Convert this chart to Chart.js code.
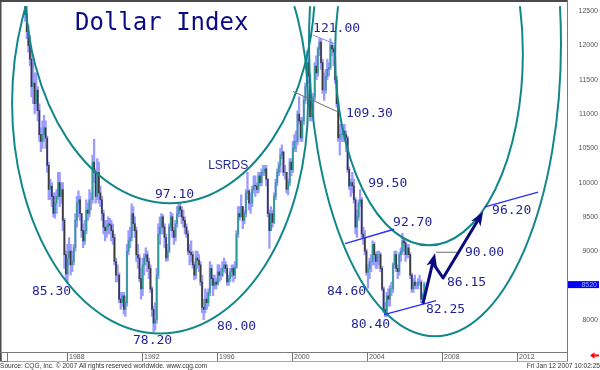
<!DOCTYPE html>
<html>
<head>
<meta charset="utf-8">
<title>Dollar Index</title>
<script src="https://cdn.jsdelivr.net/npm/chart.js@4.4.1/dist/chart.umd.min.js"></script>
<style>
  html, body { margin: 0; padding: 0; background: #fff; }
  #wrap { width: 600px; height: 370px; }
</style>
</head>
<body>
<div id="wrap"><canvas id="chart" width="600" height="370"></canvas></div>
<script>
// ==================== DATA ====================

// monthly bars, first bar = Oct 1985
const startYear = 1985;
const startMonth = 9; // 0 = Jan
const firstOpen = 128.5;

const closes = [
  124.5, 122.0, 120.0,
  118.0, 114.0, 114.5, 111.5, 113.5, 110.5, 107.0, 106.0, 107.0, 108.0, 106.5, 102.5,
  99.0, 99.5, 98.0, 95.5, 97.0, 98.0, 100.0, 98.0, 99.0, 94.5, 89.5, 86.7,
  89.0, 90.0, 88.0, 88.5, 90.5, 94.5, 97.0, 97.5, 95.5, 93.0, 91.5, 93.0,
  96.0, 95.5, 97.5, 97.5, 103.0, 101.5, 98.0, 101.5, 98.5, 97.5, 95.5, 93.5,
  93.0, 93.5, 94.0, 93.8, 93.0, 92.0, 88.5, 86.5, 86.5, 83.0, 82.5, 83.5,
  81.5, 82.5, 90.0, 91.5, 92.0, 95.5, 94.0, 93.0, 89.5, 89.0, 86.0, 84.5,
  88.0, 89.0, 89.5, 88.5, 87.5, 84.5, 81.5, 79.5, 80.0, 86.5, 92.5, 93.5,
  95.0, 93.5, 92.0, 89.0, 90.0, 93.5, 95.0, 93.0, 92.0, 94.0, 95.5, 96.5,
  96.0, 95.0, 94.5, 93.5, 92.5, 90.0, 89.8, 89.5, 88.0, 86.5, 89.0, 88.7,
  88.0, 85.5, 81.8, 81.5, 83.0, 82.5, 84.0, 87.5, 86.0, 85.0, 85.5, 85.2,
  87.0, 86.5, 86.5, 87.5, 88.0, 87.5, 85.5, 86.0, 87.0, 87.5, 86.5, 87.7,
  92.5, 95.5, 95.0, 96.5, 94.5, 95.5, 98.5, 98.8, 97.0, 97.0, 99.0, 99.6,
  99.5, 99.0, 101.0, 100.0, 101.5, 101.5, 102.0, 100.5, 95.5, 93.0, 95.5, 94.2,
  98.0, 100.0, 101.5, 102.5, 104.0, 104.5, 101.5, 101.5, 99.0, 100.0, 103.0, 101.9,
  105.0, 106.0, 106.0, 110.0, 109.0, 106.5, 109.0, 112.0, 114.0, 117.5, 115.5, 109.6,
  110.5, 112.5, 117.0, 116.0, 119.5, 120.5, 117.5, 113.5, 113.5, 115.5, 116.5, 116.8,
  120.0, 119.5, 119.0, 115.0, 111.5, 106.5, 107.0, 107.0, 107.5, 107.0, 106.5, 101.9,
  99.5, 100.0, 99.5, 97.5, 93.5, 95.0, 97.0, 97.5, 92.5, 92.0, 90.0, 86.9,
  87.5, 88.5, 88.5, 91.0, 89.5, 88.5, 89.5, 89.5, 87.5, 84.5, 81.5, 80.9,
  83.5, 83.0, 84.5, 84.5, 88.0, 89.5, 87.5, 87.0, 89.5, 90.0, 91.5, 91.2,
  89.5, 90.5, 89.5, 86.5, 84.5, 85.5, 85.0, 85.0, 85.5, 85.5, 83.0, 83.7,
  85.2
];

const highs = [
  130.0, 126.0, 123.0,
  121.5, 119.0, 117.5, 116.0, 116.0, 114.0, 111.5, 108.0, 109.0, 109.8, 109.0, 106.8,
  103.0, 100.5, 100.0, 98.5, 98.5, 99.0, 101.5, 101.5, 100.0, 100.0, 94.8, 90.0,
  91.0, 92.0, 91.0, 90.0, 91.0, 95.5, 98.0, 98.8, 98.0, 95.5, 94.0, 94.5,
  97.5, 97.0, 99.0, 98.5, 104.0, 106.3, 102.0, 103.5, 103.0, 99.5, 98.0, 96.0,
  94.5, 94.5, 95.0, 94.8, 94.5, 94.0, 92.5, 89.0, 88.0, 86.8, 84.0, 84.0,
  84.0, 83.5, 91.0, 93.0, 93.5, 96.9, 96.5, 95.0, 93.5, 91.0, 89.5, 87.5,
  89.0, 89.6, 90.5, 90.0, 89.0, 88.0, 84.8, 82.0, 82.5, 87.5, 94.0, 95.0,
  95.5, 95.3, 94.0, 92.5, 91.0, 94.0, 95.7, 95.5, 93.5, 94.5, 96.5, 97.1,
  97.0, 96.5, 96.0, 95.0, 94.0, 93.0, 91.0, 91.5, 90.0, 88.5, 90.0, 90.0,
  89.5, 88.5, 86.5, 83.0, 84.5, 84.0, 84.5, 88.5, 88.0, 86.5, 86.5, 86.0,
  88.0, 88.0, 87.5, 88.5, 89.0, 88.5, 88.0, 86.5, 87.5, 88.0, 88.0, 88.5,
  93.0, 96.5, 96.5, 98.2, 96.5, 96.0, 99.0, 101.5, 99.0, 98.5, 99.5, 101.0,
  101.0, 100.0, 101.5, 101.5, 102.0, 102.5, 102.5, 102.5, 100.5, 96.0, 96.5, 96.0,
  98.5, 100.5, 102.0, 103.0, 105.0, 105.5, 104.5, 102.5, 101.5, 100.5, 103.5, 103.5,
  106.0, 107.0, 107.5, 110.5, 112.5, 109.5, 109.5, 112.5, 114.5, 119.2, 118.0, 115.8,
  112.0, 113.0, 117.5, 118.5, 119.8, 121.0, 121.0, 118.0, 116.0, 116.5, 118.0, 117.5,
  121.0, 120.5, 120.0, 119.5, 115.5, 111.8, 108.5, 108.5, 108.5, 108.5, 107.5, 106.8,
  102.3, 100.5, 101.5, 100.5, 97.8, 96.0, 97.5, 99.0, 97.8, 93.5, 93.0, 90.3,
  88.0, 89.0, 89.5, 91.5, 91.3, 89.8, 90.0, 90.0, 89.8, 87.8, 84.8, 82.5,
  84.0, 84.5, 85.0, 85.5, 88.3, 90.0, 90.0, 88.0, 89.8, 90.5, 92.6, 92.0,
  91.5, 91.0, 91.0, 89.8, 86.8, 86.0, 86.5, 85.5, 86.0, 86.5, 85.8, 84.0,
  85.5
];

const lows = [
  123.5, 121.0, 119.0,
  117.0, 112.5, 111.5, 110.0, 110.5, 109.0, 106.0, 104.5, 105.0, 106.0, 105.0, 101.5,
  97.5, 97.5, 96.5, 95.0, 94.8, 95.5, 97.5, 96.5, 97.0, 93.0, 87.5, 85.8,
  85.3, 88.0, 86.5, 87.0, 88.0, 90.0, 93.5, 95.0, 94.5, 92.0, 90.5, 91.0,
  92.5, 94.5, 95.0, 96.0, 97.0, 100.0, 97.0, 97.5, 97.0, 96.5, 94.5, 92.5,
  91.5, 92.0, 92.5, 92.5, 91.5, 91.0, 88.0, 85.5, 85.5, 82.5, 81.5, 82.0,
  80.8, 80.5, 82.0, 89.5, 90.5, 91.5, 93.0, 92.0, 88.5, 87.5, 85.5, 83.0,
  83.5, 86.5, 88.0, 87.0, 86.0, 84.0, 80.5, 78.2, 78.5, 79.5, 86.0, 91.0,
  92.5, 92.5, 90.5, 88.5, 88.6, 89.8, 93.0, 92.0, 91.0, 91.5, 93.5, 95.0,
  95.0, 94.0, 93.5, 92.5, 92.0, 89.5, 88.0, 88.5, 87.5, 85.8, 86.0, 87.5,
  87.0, 85.0, 81.0, 80.0, 81.0, 81.5, 82.0, 83.5, 85.0, 83.5, 84.5, 84.5,
  85.0, 85.5, 85.8, 86.3, 87.0, 86.8, 85.0, 85.0, 85.5, 86.3, 85.5, 86.0,
  87.5, 92.0, 94.5, 95.0, 93.3, 94.0, 95.0, 97.5, 96.0, 95.5, 96.5, 98.5,
  98.0, 98.5, 98.5, 99.5, 99.5, 101.0, 101.0, 99.5, 95.0, 90.4, 93.0, 93.5,
  94.0, 97.5, 99.5, 101.0, 101.5, 103.5, 101.0, 100.5, 98.5, 98.2, 99.5, 101.0,
  101.5, 104.5, 104.5, 105.5, 108.5, 106.0, 106.0, 108.5, 111.5, 114.0, 114.5, 109.0,
  109.0, 109.5, 112.0, 115.0, 115.5, 118.5, 116.5, 113.0, 112.0, 113.0, 115.0, 115.5,
  116.5, 118.5, 117.0, 114.5, 111.0, 106.0, 104.0, 106.0, 106.0, 106.0, 104.5, 101.5,
  99.0, 98.0, 98.5, 97.0, 92.5, 92.0, 94.5, 96.5, 92.0, 91.0, 89.5, 86.5,
  84.6, 86.0, 87.0, 88.0, 88.0, 87.5, 87.5, 88.0, 87.0, 84.2, 81.0, 80.4,
  80.5, 82.0, 82.0, 83.5, 84.0, 87.5, 87.0, 86.0, 86.5, 88.5, 89.5, 90.0,
  88.5, 89.0, 89.0, 86.0, 84.0, 84.0, 84.5, 84.5, 84.5, 85.0, 82.5, 82.25,
  83.5
];

const yearTicks = [1988, 1992, 1996, 2000, 2004, 2008, 2012];
const priceTicks = [80, 85, 90, 95, 100, 105, 110, 115, 120, 125];
const lastPrice = 85.20;

// ellipses : [centre year, centre value, half width in years, half height in points]
const ellipses = [
  [1992.97, 111.6, 7.88, 33.6],
  [1993.50, 128.9, 7.72, 31.9],
  [2007.61, 120.24, 6.71, 42.65],
  [2007.29, 118.8, 5.0, 27.95]
];

// price notes : [text, year, value]
const priceNotes = [
  ['121.00', 2001.12, 122.4],
  ['109.30', 2002.87, 110.0],
  ['99.50', 2004.05, 99.9],
  ['92.70', 2005.38, 94.2],
  ['96.20', 2010.65, 95.9],
  ['90.00', 2009.21, 89.8],
  ['86.15', 2008.25, 85.4],
  ['82.25', 2007.13, 81.5],
  ['84.60', 2001.86, 84.1],
  ['80.40', 2003.14, 79.3],
  ['85.30', 1986.15, 84.1],
  ['97.10', 1992.70, 98.2],
  ['78.20', 1991.53, 76.9],
  ['80.00', 1996.00, 79.0]
];
const lsrdsNote = ['LSRDS', 1995.53, 102.5];

// trend lines : [year1, value1, year2, value2]
const channelLines = [
  [2002.82, 91.1, 2005.43, 93.2],
  [2004.90, 80.76, 2007.67, 82.8],
  [2010.28, 96.47, 2013.10, 98.6]
];
const topLine = [2001.12, 121.5, 2002.29, 120.2];
const greyLines = [
  [2000.05, 113.3, 2002.45, 110.3],
  [2007.67, 89.84, 2008.78, 89.84]
];

// projected path
const projection = [[2006.97, 82.35], [2007.61, 89.7], [2008.04, 86.1], [2010.17, 95.75]];

// ==================== BARS ====================

const months = closes.map((_, i) => startYear + (startMonth + i + 0.5) / 12);
const opens = closes.map((c, i) => (i === 0 ? firstOpen : closes[i - 1]));

const rangeData = months.map((m, i) => ({ x: m, y: [lows[i], highs[i]] }));
const bodyData = months.map((m, i) => ({ x: m, y: [opens[i], closes[i]] }));
const bodyColors = closes.map((c, i) => (c >= opens[i] ? '#2f9a96' : '#3a3a3a'));

// ==================== DRAWING HELPERS ====================

function drawArrowHead(ctx, x0, y0, x1, y1) {
  const a = Math.atan2(y1 - y0, x1 - x0);
  const len = 14, half = 5.5;
  ctx.save();
  ctx.translate(x1, y1);
  ctx.rotate(a);
  ctx.beginPath();
  ctx.moveTo(0, 0);
  ctx.lineTo(-len, -half);
  ctx.lineTo(-len + 4, 0);
  ctx.lineTo(-len, half);
  ctx.closePath();
  ctx.fill();
  ctx.restore();
}

function segment(ctx, x, y, l) {
  ctx.beginPath();
  ctx.moveTo(x.getPixelForValue(l[0]), y.getPixelForValue(l[1]));
  ctx.lineTo(x.getPixelForValue(l[2]), y.getPixelForValue(l[3]));
  ctx.stroke();
}

const overlay = {
  id: 'overlay',
  afterDatasetsDraw(chart) {
    const { ctx, chartArea: a, scales: { x, y } } = chart;

    ctx.save();
    ctx.beginPath();
    ctx.rect(a.left, a.top, a.right - a.left, a.bottom - a.top);
    ctx.clip();

    // ellipses
    ctx.strokeStyle = '#12878a';
    ctx.lineWidth = 2;
    ellipses.forEach(([cx, cy, rx, ry]) => {
      const px = x.getPixelForValue(cx);
      const py = y.getPixelForValue(cy);
      const prx = x.getPixelForValue(cx + rx) - px;
      const pry = py - y.getPixelForValue(cy + ry);
      ctx.beginPath();
      ctx.ellipse(px, py, prx, pry, 0, 0, Math.PI * 2);
      ctx.stroke();
    });

    // lines
    ctx.lineWidth = 1;
    ctx.strokeStyle = '#8a8ad2';
    segment(ctx, x, y, topLine);
    ctx.strokeStyle = '#6e6e6e';
    greyLines.forEach(l => segment(ctx, x, y, l));
    ctx.strokeStyle = '#2b2bff';
    ctx.lineWidth = 1.4;
    channelLines.forEach(l => segment(ctx, x, y, l));

    // projection arrows
    const p = projection.map(([yr, v]) => [x.getPixelForValue(yr), y.getPixelForValue(v)]);
    ctx.strokeStyle = '#0a0a80';
    ctx.fillStyle = '#0a0a80';
    ctx.lineWidth = 3;
    ctx.lineJoin = 'round';
    const base = (from, to, d) => {
      const dx = to[0] - from[0], dy = to[1] - from[1];
      const n = Math.hypot(dx, dy);
      return [to[0] - dx / n * d, to[1] - dy / n * d];
    };
    const b1 = base(p[0], p[1], 10);
    const b3 = base(p[2], p[3], 10);
    ctx.beginPath();
    ctx.moveTo(p[0][0], p[0][1]);
    ctx.lineTo(b1[0], b1[1]);
    ctx.stroke();
    ctx.beginPath();
    ctx.moveTo(b1[0], b1[1]);
    ctx.lineTo(p[2][0], p[2][1]);
    ctx.lineTo(b3[0], b3[1]);
    ctx.stroke();
    drawArrowHead(ctx, p[0][0], p[0][1], p[1][0], p[1][1]);
    drawArrowHead(ctx, p[2][0], p[2][1], p[3][0], p[3][1]);

    // notes
    ctx.fillStyle = '#1f1f96';
    ctx.textAlign = 'left';
    ctx.textBaseline = 'middle';
    ctx.font = '13px "DejaVu Sans Mono"';
    priceNotes.forEach(([t, yr, v]) => ctx.fillText(t, x.getPixelForValue(yr), y.getPixelForValue(v)));
    ctx.font = '12px "Liberation Sans", Arial';
    ctx.fillText(lsrdsNote[0], x.getPixelForValue(lsrdsNote[1]), y.getPixelForValue(lsrdsNote[2]));

    // title
    ctx.fillStyle = '#0b0b88';
    ctx.font = '24px "DejaVu Sans Mono"';
    ctx.fillText('Dollar Index', a.left + 74, a.top + 18);
    ctx.restore();

    // frame
    ctx.save();
    ctx.fillStyle = '#4a4a4a';
    ctx.fillRect(0, 0, a.right + 1, 2);
    ctx.fillRect(0, 0, 1.5, 362);
    ctx.strokeStyle = '#7a7a7a';
    ctx.lineWidth = 1;
    ctx.beginPath();
    ctx.moveTo(a.right + 0.5, 0);
    ctx.lineTo(a.right + 0.5, 361.5);
    ctx.moveTo(0, a.bottom + 0.5);
    ctx.lineTo(a.right + 0.5, a.bottom + 0.5);
    ctx.stroke();
    ctx.strokeStyle = '#a8a8a8';
    ctx.beginPath();
    ctx.moveTo(0, 361.5);
    ctx.lineTo(a.right + 0.5, 361.5);
    ctx.stroke();
    ctx.strokeStyle = '#777';
    ctx.strokeRect(1.5, a.bottom + 0.5, 6, 9);

    // year strip
    ctx.font = '7px "Liberation Sans", Arial';
    ctx.fillStyle = '#555';
    ctx.textAlign = 'left';
    ctx.textBaseline = 'middle';
    yearTicks.forEach(yr => {
      const px = Math.round(x.getPixelForValue(yr)) + 0.5;
      ctx.beginPath();
      ctx.moveTo(px, a.bottom);
      ctx.lineTo(px, 361);
      ctx.stroke();
      ctx.fillText(String(yr), px + 1.5, a.bottom + 5.5);
    });

    // last price marker
    const ly = y.getPixelForValue(lastPrice);
    ctx.fillStyle = '#0000ff';
    ctx.fillRect(a.right + 1, ly - 3, 31, 7);
    ctx.fillStyle = '#9fb0ff';
    ctx.textAlign = 'right';
    ctx.fillText(String(Math.round(lastPrice * 100)), 597, ly + 0.5);

    // red arrow
    ctx.fillStyle = '#ff0000';
    ctx.beginPath();
    ctx.moveTo(590, 355.5);
    ctx.lineTo(594.5, 352.3);
    ctx.lineTo(594.5, 354.4);
    ctx.lineTo(599, 354.4);
    ctx.lineTo(599, 356.6);
    ctx.lineTo(594.5, 356.6);
    ctx.lineTo(594.5, 358.7);
    ctx.closePath();
    ctx.fill();

    // footer
    ctx.fillStyle = '#333';
    ctx.font = '6.6px "Liberation Sans", Arial';
    ctx.textAlign = 'left';
    ctx.fillText('Source: CQG, Inc. \u00a9 2007 All rights reserved worldwide. www.cqg.com', 0, 366);
    ctx.textAlign = 'right';
    ctx.fillText('Fri Jan 12 2007 10:02:25', 600, 366);
    ctx.restore();
  }
};

// ==================== CHART ====================

new Chart(document.getElementById('chart').getContext('2d'), {
  type: 'bar',
  data: {
    datasets: [
      {
        label: 'Open / Close',
        data: bodyData,
        backgroundColor: bodyColors,
        barThickness: 1,
        grouped: false,
        order: 0
      },
      {
        label: 'High / Low',
        data: rangeData,
        backgroundColor: '#9a9aff',
        barThickness: 1.6,
        grouped: false,
        order: 1
      }
    ]
  },
  options: {
    responsive: false,
    animation: false,
    layout: { padding: { left: 1, top: 2, right: 2, bottom: 18 } },
    plugins: {
      legend: { display: false },
      tooltip: { enabled: false }
    },
    scales: {
      x: {
        type: 'linear',
        min: 1984.5,
        max: 2014.64,
        offset: false,
        display: false
      },
      y: {
        type: 'linear',
        position: 'right',
        min: 75.3,
        max: 125.72,
        grid: { display: false },
        border: { display: false },
        afterBuildTicks: s => { s.ticks = priceTicks.map(v => ({ value: v })); },
        afterFit: s => { s.width = 31; },
        ticks: {
          callback: v => String(Math.round(v * 100)),
          color: '#555',
          font: { family: '"Liberation Sans", Arial', size: 7 },
          crossAlign: 'far',
          padding: 2
        }
      }
    }
  },
  plugins: [overlay]
});
</script>
</body>
</html>
